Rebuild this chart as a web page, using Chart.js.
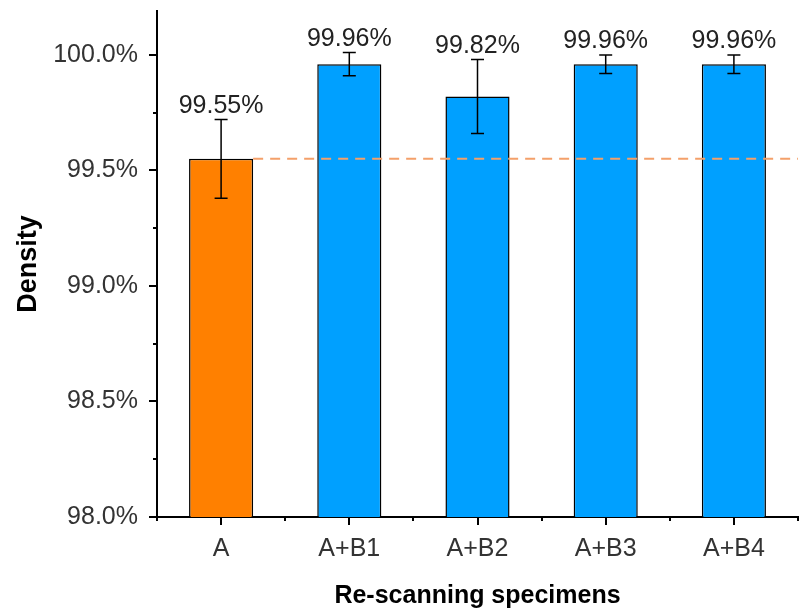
<!DOCTYPE html>
<html>
<head>
<meta charset="utf-8">
<script src="https://cdn.jsdelivr.net/npm/chart.js@4.4.1/dist/chart.umd.min.js"></script>
<style>
  html, body { margin: 0; padding: 0; background: #fff; }
  #wrap { width: 800px; height: 611px; }
</style>
</head>
<body>
<div id="wrap"><canvas id="densityChart"></canvas></div>
<script>
// Data
const categories = ['A', 'A+B1', 'A+B2', 'A+B3', 'A+B4'];
const density = [99.55, 99.96, 99.82, 99.96, 99.96];
const densityErr = [0.17, 0.05, 0.16, 0.04, 0.04];
const barColors = ['#FF8000', '#00A0FF', '#00A0FF', '#00A0FF', '#00A0FF'];
const yTicks = [98.0, 98.5, 99.0, 99.5, 100.0];
const yMinorTicks = [98.25, 98.75, 99.25, 99.75];
const refLine = 99.55;

const FONT = "'Liberation Sans', Arial, sans-serif";

// Ticks (major + minor) drawn by hand, Origin style
const axisTicks = {
    id: 'axisTicks',
    afterDraw(chart) {
        const { ctx, chartArea, scales } = chart;
        const x = scales.x, y = scales.y;
        ctx.save();
        ctx.strokeStyle = '#000';
        ctx.lineWidth = 2;
        ctx.beginPath();
        yTicks.forEach(v => {
            const py = Math.round(y.getPixelForValue(v));
            ctx.moveTo(chartArea.left, py);
            ctx.lineTo(chartArea.left - 8, py);
        });
        yMinorTicks.forEach(v => {
            const py = Math.round(y.getPixelForValue(v));
            ctx.moveTo(chartArea.left, py);
            ctx.lineTo(chartArea.left - 4, py);
        });
        categories.forEach((c, i) => {
            const px = Math.round(x.getPixelForValue(i));
            ctx.moveTo(px, chartArea.bottom);
            ctx.lineTo(px, chartArea.bottom + 8);
        });
        for (let i = 0; i <= categories.length; i++) {
            const px = Math.round(x.getPixelForValue(i - 0.5));
            ctx.moveTo(px, chartArea.bottom);
            ctx.lineTo(px, chartArea.bottom + 4);
        }
        ctx.stroke();
        ctx.restore();
    }
};

// Dashed reference line, error bars and value labels
const overlay = {
    id: 'overlay',
    afterDatasetsDraw(chart) {
        const { ctx, chartArea, scales } = chart;
        const y = scales.y;
        const bars = chart.getDatasetMeta(0).data;
        ctx.save();

        // reference line from the right edge of bar A
        const ry = y.getPixelForValue(refLine);
        ctx.strokeStyle = '#F4A06A';
        ctx.lineWidth = 2;
        ctx.setLineDash([10, 7]);
        ctx.beginPath();
        ctx.moveTo(bars[0].x + bars[0].width / 2, ry);
        ctx.lineTo(chartArea.right, ry);
        ctx.stroke();
        ctx.setLineDash([]);

        ctx.strokeStyle = '#000';
        ctx.lineWidth = 1.5;
        ctx.fillStyle = '#222';
        ctx.font = '25px ' + FONT;
        ctx.textAlign = 'center';
        ctx.textBaseline = 'alphabetic';
        bars.forEach((bar, i) => {
            const top = y.getPixelForValue(density[i] + densityErr[i]);
            const bot = y.getPixelForValue(density[i] - densityErr[i]);
            ctx.beginPath();
            ctx.moveTo(bar.x, top);
            ctx.lineTo(bar.x, bot);
            ctx.moveTo(bar.x - 6.5, top);
            ctx.lineTo(bar.x + 6.5, top);
            ctx.moveTo(bar.x - 6.5, bot);
            ctx.lineTo(bar.x + 6.5, bot);
            ctx.stroke();
            ctx.fillText(density[i].toFixed(2) + '%', bar.x, top - 7);
        });
        ctx.restore();
    }
};

new Chart(document.getElementById('densityChart'), {
    type: 'bar',
    data: {
        labels: categories,
        datasets: [{
            data: density,
            backgroundColor: barColors,
            borderColor: '#000',
            borderWidth: 1.5,
            barPercentage: 0.5,
            categoryPercentage: 1.0
        }]
    },
    options: {
        responsive: true,
        maintainAspectRatio: false,
        animation: false,
        layout: { padding: { top: 11, right: 2, left: 0, bottom: 0 } },
        plugins: {
            legend: { display: false },
            tooltip: { enabled: false }
        },
        scales: {
            x: {
                grid: { display: false },
                border: { display: true, color: '#000', width: 2 },
                ticks: {
                    color: '#333',
                    font: { family: FONT, size: 25 },
                    padding: 9,
                    maxRotation: 0
                },
                title: {
                    display: true,
                    text: 'Re-scanning specimens',
                    color: '#000',
                    font: { family: FONT, size: 25, weight: 'bold' },
                    padding: { top: 14, bottom: 0 }
                },
                afterFit(scale) {
                    scale.height = 94;
                    scale.paddingLeft = 0;
                    scale.paddingRight = 0;
                }
            },
            y: {
                min: 98.0,
                max: 100.19,
                grid: { display: false },
                border: { display: true, color: '#000', width: 2 },
                afterBuildTicks(scale) {
                    scale.ticks = yTicks.map(v => ({ value: v }));
                },
                ticks: {
                    color: '#333',
                    font: { family: FONT, size: 25 },
                    padding: 11,
                    callback: v => v.toFixed(1) + '%'
                },
                title: {
                    display: true,
                    text: 'Density',
                    color: '#000',
                    font: { family: FONT, size: 27, weight: 'bold' },
                    padding: { top: 12, bottom: 4 }
                },
                afterFit(scale) {
                    scale.width = 157;
                    scale.paddingTop = 0;
                    scale.paddingBottom = 0;
                }
            }
        }
    },
    plugins: [axisTicks, overlay]
});
</script>
</body>
</html>
